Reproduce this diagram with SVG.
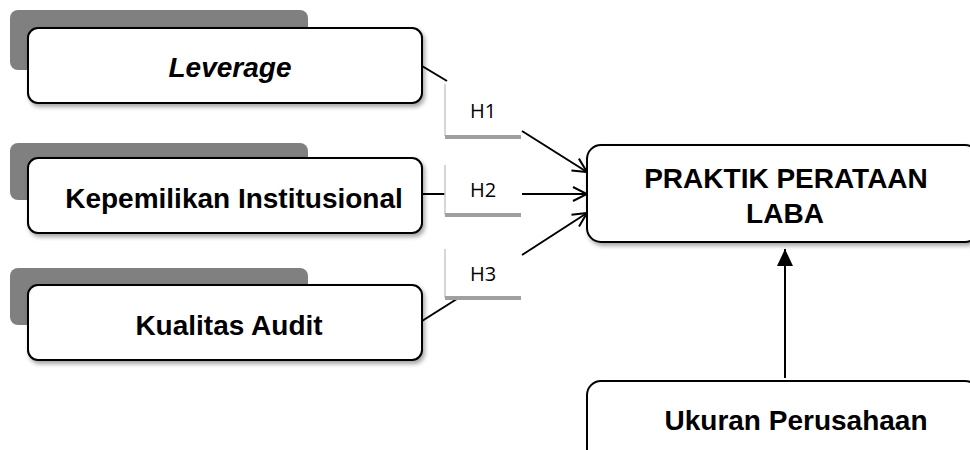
<svg xmlns="http://www.w3.org/2000/svg" width="970" height="450" viewBox="0 0 970 450">
<defs>
<style>
.back{fill:#808080;}
.box{fill:#fff;stroke:#000;stroke-width:2;}
.t{font-family:"Liberation Sans",Arial,sans-serif;font-weight:bold;font-size:28px;fill:#000;text-anchor:middle;}
.h{font-family:"Open Sans","Liberation Sans",sans-serif;font-size:20px;fill:#000;text-anchor:middle;}
.lv{stroke:#c8c8c8;stroke-width:1.5;}
.lb{stroke:#a0a0a0;stroke-width:4;}
.c{stroke:#000;stroke-width:2;fill:none;}
</style>
<filter id="sh" x="-5%" y="-10%" width="115%" height="130%">
<feDropShadow dx="2" dy="3" stdDeviation="2" flood-color="#000" flood-opacity="0.35"/>
</filter>
<marker id="open" viewBox="0 0 16 16" refX="15" refY="8" markerWidth="16" markerHeight="16" markerUnits="userSpaceOnUse" orient="auto">
<path d="M1,1 L15,8 L1,15" fill="none" stroke="#000" stroke-width="2"/>
</marker>
<marker id="fill" viewBox="0 0 18 16" refX="17" refY="8" markerWidth="18" markerHeight="16" markerUnits="userSpaceOnUse" orient="auto">
<path d="M0,0 L17,8 L0,16 Z" fill="#000"/>
</marker>
</defs>

<g id="connectors">
<line class="c" x1="422" y1="66" x2="447" y2="81"/>
<line class="c" x1="522" y1="131" x2="587" y2="172" marker-end="url(#open)"/>
<line class="c" x1="422" y1="194" x2="445" y2="194"/>
<line class="c" x1="522" y1="194" x2="587" y2="194" marker-end="url(#open)"/>
<line class="c" x1="422" y1="321" x2="460" y2="297"/>
<line class="c" x1="522" y1="255" x2="587" y2="213" marker-end="url(#open)"/>
<line class="c" x1="785" y1="378" x2="785" y2="249" marker-end="url(#fill)"/>
</g>

<g id="h1">
<line class="lv" x1="445" y1="84" x2="445" y2="136"/>
<line class="lb" x1="445" y1="137" x2="521" y2="137"/>
<text class="h" x="483" y="118">H1</text>
</g>
<g id="h2">
<line class="lv" x1="445" y1="165" x2="445" y2="215"/>
<line class="lb" x1="445" y1="215" x2="521" y2="215"/>
<text class="h" x="483" y="197">H2</text>
</g>
<g id="h3">
<line class="lv" x1="445" y1="249" x2="445" y2="298"/>
<line class="lb" x1="445" y1="298" x2="521" y2="298"/>
<text class="h" x="483" y="281">H3</text>
</g>

<g id="leverage">
<rect class="back" x="10" y="10" width="298" height="60" rx="8"/>
<rect class="box" x="28" y="28" width="394" height="75" rx="10" filter="url(#sh)"/>
<text class="t" x="230" y="77" font-style="italic">Leverage</text>
</g>

<g id="kepemilikan">
<rect class="back" x="10" y="143" width="298" height="57" rx="8"/>
<rect class="box" x="28" y="158" width="394" height="75" rx="10" filter="url(#sh)"/>
<text class="t" x="234" y="208">Kepemilikan Institusional</text>
</g>

<g id="kualitas">
<rect class="back" x="10" y="268" width="298" height="57" rx="8"/>
<rect class="box" x="28" y="285" width="394" height="75" rx="10" filter="url(#sh)"/>
<text class="t" x="229" y="335">Kualitas Audit</text>
</g>

<g id="praktik">
<rect class="box" x="587" y="145" width="392" height="97" rx="14" filter="url(#sh)"/>
<text class="t" x="786" y="188">PRAKTIK PERATAAN</text>
<text class="t" x="785" y="223">LABA</text>
</g>

<g id="ukuran">
<rect class="box" x="587" y="381" width="392" height="90" rx="14"/>
<text class="t" x="796" y="430" font-size="30">Ukuran Perusahaan</text>
</g>
</svg>
